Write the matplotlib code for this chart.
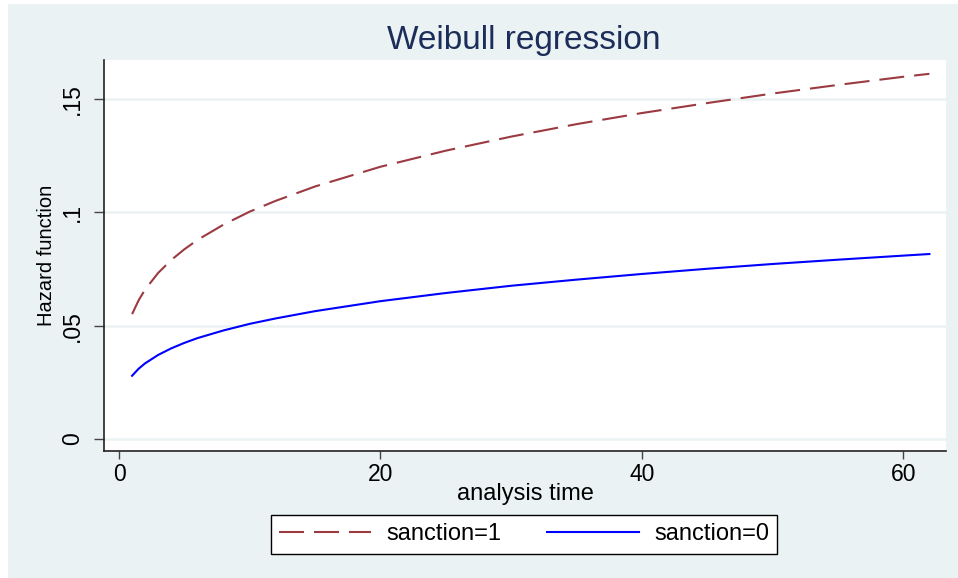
import matplotlib
matplotlib.use("Agg")
import matplotlib.pyplot as plt
from matplotlib.patches import Rectangle

# Data
analysis_time = [1, 1.5, 2, 3, 4, 5, 6, 8, 10, 12, 15, 20, 25, 30, 35, 40, 45, 50, 55, 60, 62]
hazard_sanction1 = [0.0551, 0.0612, 0.0660, 0.0733, 0.0790, 0.0837, 0.0878, 0.0946, 0.1003, 0.1051,
                    0.1114, 0.1201, 0.1272, 0.1334, 0.1389, 0.1438, 0.1482, 0.1524, 0.1562, 0.1598, 0.1611]
hazard_sanction0 = [0.0279, 0.0310, 0.0334, 0.0371, 0.0400, 0.0424, 0.0445, 0.0479, 0.0508, 0.0532,
                    0.0564, 0.0608, 0.0644, 0.0676, 0.0703, 0.0728, 0.0751, 0.0772, 0.0791, 0.0809, 0.0816]
series_labels = ["sanction=1", "sanction=0"]
x_ticks = [0, 20, 40, 60]
y_ticks = [0, 0.05, 0.1, 0.15]
y_tick_labels = ["0", ".05", ".1", ".15"]
title = "Weibull regression"
x_label = "analysis time"
y_label = "Hazard function"

plt.rcParams['font.family'] = ['Liberation Sans', 'DejaVu Sans']

W, H = 958, 578
fig = plt.figure(figsize=(W / 100, H / 100), dpi=100)
fig.patch.set_facecolor('white')
bg = '#EAF2F3'
fig.patches.append(Rectangle((8 / W, 0), (W - 8) / W, (H - 4) / H, transform=fig.transFigure,
                             facecolor=bg, edgecolor='none', zorder=-10))

L, R, T, B = 104, 946, 60, 451
ax = fig.add_axes([L / W, 1 - B / H, (R - L) / W, (B - T) / H])
ax.set_zorder(1)
ax.set_facecolor('white')

ax.plot(analysis_time, hazard_sanction1, color='#9b3a40', lw=1.5, linestyle=(0, (12, 4.8)),
        label=series_labels[0], zorder=3)
ax.plot(analysis_time, hazard_sanction0, color='#0000ff', lw=1.5, label=series_labels[1], zorder=3)

ax.set_xlim(-1.15, 63.27)
ax.set_ylim(-0.0053, 0.1672)

ax.set_xticks(x_ticks)
ax.set_xticklabels([str(v) for v in x_ticks], fontsize=16.5)
ax.set_yticks(y_ticks)
ax.set_yticklabels(y_tick_labels, fontsize=16.5, rotation=90, va='center')

ax.grid(axis='y', color=bg, lw=1.8, zorder=1)
ax.grid(axis='x', visible=False)
ax.set_axisbelow(True)

for s in ['top', 'right']:
    ax.spines[s].set_visible(False)
for s in ['left', 'bottom']:
    ax.spines[s].set_color('#222222')
    ax.spines[s].set_linewidth(1.2)

ax.tick_params(axis='y', direction='out', length=7.2, width=1.0, color='#444444', pad=7)
ax.tick_params(axis='x', direction='out', length=5.8, width=1.0, color='#444444', pad=3)

ax.set_xlabel(x_label, fontsize=17, va='center')
ax.xaxis.set_label_coords(0.5, -(494 - B) / (B - T))
ax.set_ylabel(y_label, fontsize=14.5, va='center')
ax.yaxis.set_label_coords(-(L - 46) / (R - L), 0.5)

fig.text(524 / W, 1 - 49 / H, title, fontsize=24, color='#1c2d5a', ha='center', va='baseline')

leg = ax.legend(loc='center', bbox_to_anchor=(524 / W, 1 - 534.5 / H), bbox_transform=fig.transFigure,
                ncol=2, fontsize=17, frameon=True, fancybox=False, framealpha=1,
                edgecolor='black', handlelength=3.9, handletextpad=0.64, columnspacing=1.95,
                borderpad=0.35, borderaxespad=0)
leg.get_frame().set_linewidth(1.0)

fig.savefig('out.png', dpi=100, facecolor=fig.get_facecolor())
